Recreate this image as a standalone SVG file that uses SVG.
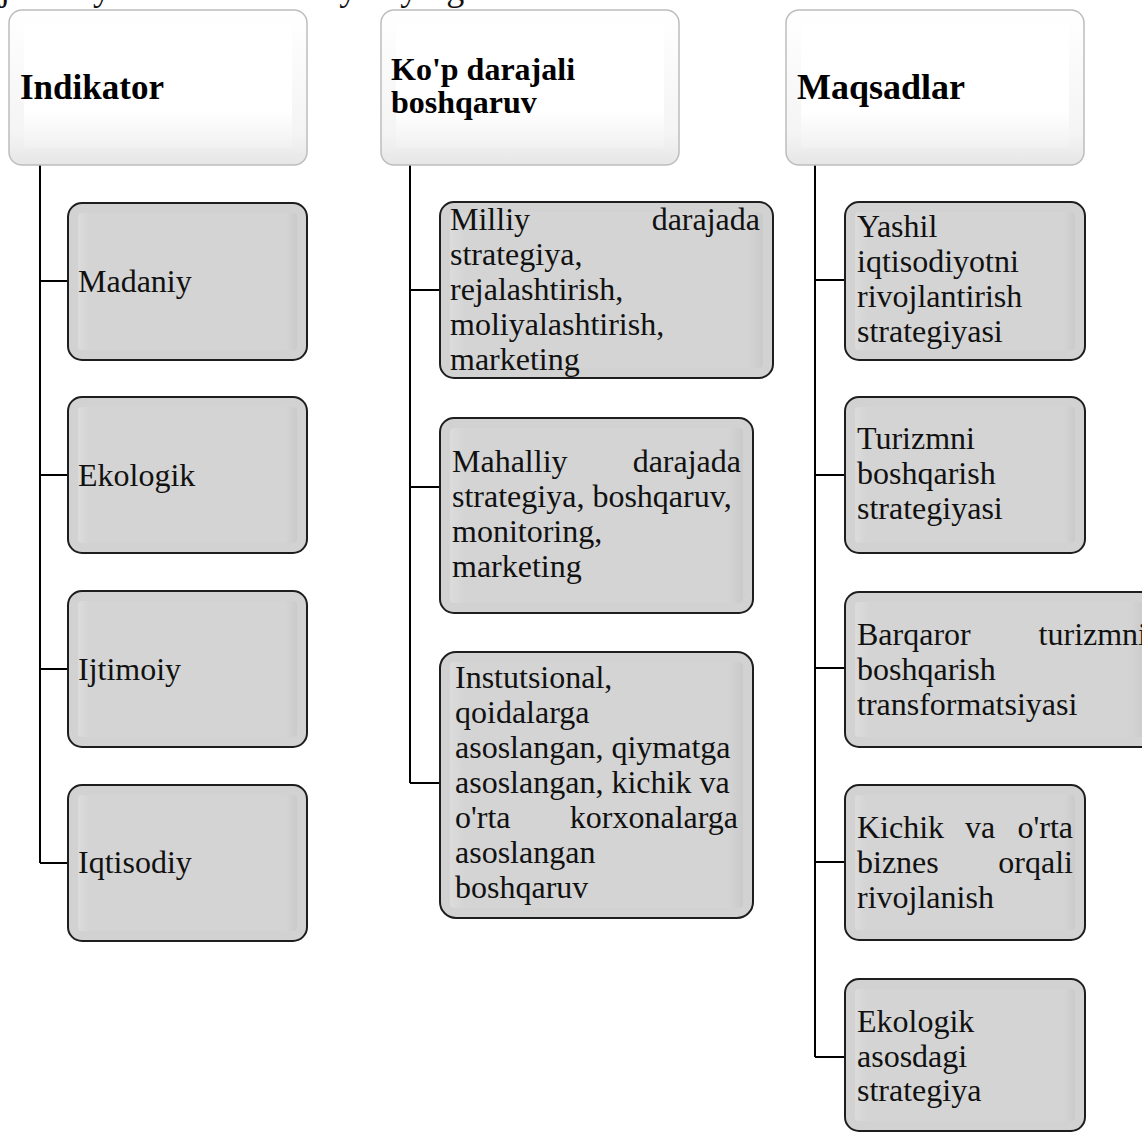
<svg xmlns="http://www.w3.org/2000/svg" width="1142" height="1133" viewBox="0 0 1142 1133">
<style>
.t{font-family:"Liberation Serif","Times New Roman",serif;font-size:32px;fill:#111}
.h{font-family:"Liberation Serif","Times New Roman",serif;font-weight:bold;fill:#000}
.box{fill:#d2d2d2;stroke:#1e1e1e;stroke-width:2}
.inner{fill:url(#gface)}
.hbox{fill:url(#hedge);stroke:#bdbdbd;stroke-width:1.5}
.hinner{fill:url(#hface)}
.ln{stroke:#000;stroke-width:2;fill:none}
</style>
<defs>
<linearGradient id="gface" x1="0" y1="0" x2="1" y2="0">
<stop offset="0" stop-color="#dcdcdc"/><stop offset="0.05" stop-color="#d4d4d4"/><stop offset="0.95" stop-color="#d4d4d4"/><stop offset="1" stop-color="#cacaca"/>
</linearGradient>
<linearGradient id="hedge" x1="0" y1="0" x2="0" y2="1">
<stop offset="0" stop-color="#ffffff"/><stop offset="0.8" stop-color="#f4f4f4"/><stop offset="1" stop-color="#e6e6e6"/>
</linearGradient>
<linearGradient id="hface" x1="0" y1="0" x2="0" y2="1">
<stop offset="0" stop-color="#ffffff"/><stop offset="0.7" stop-color="#ffffff"/><stop offset="1" stop-color="#f1f1f1"/>
</linearGradient>
</defs>
<rect width="1142" height="1133" fill="#fff"/>
<text class="t" x="0" y="0" style="font-size:36px">jada siyosat va an'anaviy hayotga asoslanadi</text>

<g id="connectors">
<path class="ln" d="M40 165V863M40 281H68M40 475H68M40 669H68M40 863H68"/>
<path class="ln" d="M410 165V783M410 290H440M410 487H440M410 783H440"/>
<path class="ln" d="M815 165V1057M815 280H845M815 475H845M815 668H845M815 862H845M815 1057H845"/>
</g>

<g id="h-indikator">
<rect class="hbox" x="9" y="10" width="298" height="155" rx="13"/>
<rect class="hinner" x="24" y="24" width="268" height="124" rx="3"/>
<text class="h" x="20" y="99" style="font-size:35px">Indikator</text>
</g>
<g id="h-kop">
<rect class="hbox" x="381" y="10" width="298" height="155" rx="13"/>
<rect class="hinner" x="396" y="24" width="268" height="124" rx="3"/>
<text class="h" x="391" y="80" style="font-size:32px">Ko'p darajali<tspan x="391" y="113">boshqaruv</tspan></text>
</g>
<g id="h-maqsadlar">
<rect class="hbox" x="786" y="10" width="298" height="155" rx="13"/>
<rect class="hinner" x="801" y="24" width="268" height="124" rx="3"/>
<text class="h" x="797" y="99" style="font-size:36px">Maqsadlar</text>
</g>

<g id="n-madaniy">
<rect class="box" x="68" y="203" width="239" height="157" rx="14"/>
<rect class="inner" x="78" y="213" width="219" height="137" rx="4"/>
<text class="t" x="78" y="292">Madaniy</text>
</g>
<g id="n-ekologik">
<rect class="box" x="68" y="397" width="239" height="156" rx="14"/>
<rect class="inner" x="78" y="407" width="219" height="136" rx="4"/>
<text class="t" x="78" y="486">Ekologik</text>
</g>
<g id="n-ijtimoiy">
<rect class="box" x="68" y="591" width="239" height="156" rx="14"/>
<rect class="inner" x="78" y="601" width="219" height="136" rx="4"/>
<text class="t" x="78" y="680">Ijtimoiy</text>
</g>
<g id="n-iqtisodiy">
<rect class="box" x="68" y="785" width="239" height="156" rx="14"/>
<rect class="inner" x="78" y="795" width="219" height="136" rx="4"/>
<text class="t" x="78" y="873">Iqtisodiy</text>
</g>

<g id="n-milliy">
<rect class="box" x="440" y="202" width="333" height="176" rx="14"/>
<rect class="inner" x="450" y="212" width="313" height="156" rx="4"/>
<text class="t" x="450" y="230">Milliy<tspan x="760" text-anchor="end">darajada</tspan><tspan x="450" y="265">strategiya,</tspan><tspan x="450" y="300">rejalashtirish,</tspan><tspan x="450" y="335">moliyalashtirish,</tspan><tspan x="450" y="370">marketing</tspan></text>
</g>
<g id="n-mahalliy">
<rect class="box" x="440" y="418" width="313" height="195" rx="14"/>
<rect class="inner" x="450" y="428" width="293" height="175" rx="4"/>
<text class="t" x="452" y="472">Mahalliy<tspan x="741" text-anchor="end">darajada</tspan><tspan x="452" y="507">strategiya, boshqaruv,</tspan><tspan x="452" y="542">monitoring,</tspan><tspan x="452" y="577">marketing</tspan></text>
</g>
<g id="n-instutsional">
<rect class="box" x="440" y="652" width="313" height="266" rx="16"/>
<rect class="inner" x="450" y="662" width="293" height="246" rx="4"/>
<text class="t" x="455" y="688">Instutsional,<tspan x="455" y="723">qoidalarga</tspan><tspan x="455" y="758">asoslangan, qiymatga</tspan><tspan x="455" y="793">asoslangan, kichik va</tspan><tspan x="455" y="828">o'rta</tspan><tspan x="738" text-anchor="end">korxonalarga</tspan><tspan x="455" y="863">asoslangan</tspan><tspan x="455" y="898">boshqaruv</tspan></text>
</g>

<g id="n-yashil">
<rect class="box" x="845" y="202" width="240" height="158" rx="14"/>
<rect class="inner" x="855" y="212" width="220" height="138" rx="4"/>
<text class="t" x="857" y="237">Yashil<tspan x="857" y="272">iqtisodiyotni</tspan><tspan x="857" y="307">rivojlantirish</tspan><tspan x="857" y="342">strategiyasi</tspan></text>
</g>
<g id="n-turizmni">
<rect class="box" x="845" y="397" width="240" height="156" rx="14"/>
<rect class="inner" x="855" y="407" width="220" height="136" rx="4"/>
<text class="t" x="857" y="449">Turizmni<tspan x="857" y="484">boshqarish</tspan><tspan x="857" y="519">strategiyasi</tspan></text>
</g>
<g id="n-barqaror">
<rect class="box" x="845" y="592" width="310" height="155" rx="14"/>
<rect class="inner" x="855" y="602" width="290" height="135" rx="4"/>
<text class="t" x="857" y="645">Barqaror<tspan x="1147" text-anchor="end">turizmni</tspan><tspan x="857" y="680">boshqarish</tspan><tspan x="857" y="715">transformatsiyasi</tspan></text>
</g>
<g id="n-kichik">
<rect class="box" x="845" y="785" width="240" height="155" rx="14"/>
<rect class="inner" x="855" y="795" width="220" height="135" rx="4"/>
<text class="t" x="857" y="838">Kichik<tspan x="980" text-anchor="middle">va</tspan><tspan x="1073" text-anchor="end">o'rta</tspan><tspan x="857" y="873">biznes</tspan><tspan x="1073" text-anchor="end">orqali</tspan><tspan x="857" y="908">rivojlanish</tspan></text>
</g>
<g id="n-ekologik-asos">
<rect class="box" x="845" y="979" width="240" height="152" rx="14"/>
<rect class="inner" x="855" y="989" width="220" height="132" rx="4"/>
<text class="t" x="857" y="1032">Ekologik<tspan x="857" y="1067">asosdagi</tspan><tspan x="857" y="1101">strategiya</tspan></text>
</g>
</svg>
